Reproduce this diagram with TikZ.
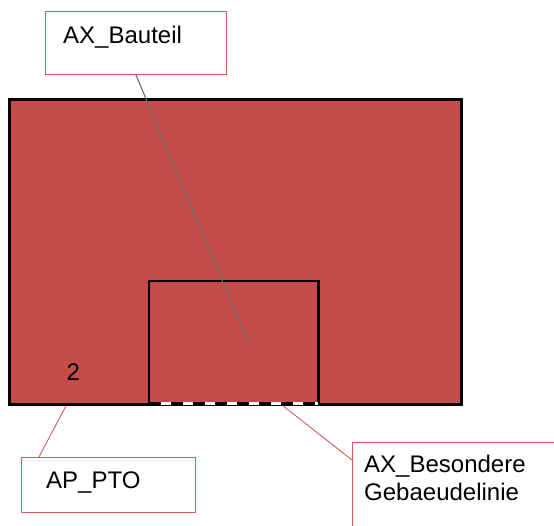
\documentclass[tikz,border=0pt]{standalone}
\usepackage{fontspec}
\setmainfont{Liberation Sans}
\usetikzlibrary{positioning}
\definecolor{bodyred}{HTML}{C64C4C}
\definecolor{leadred}{HTML}{CF5F5F}
\definecolor{leadgray}{HTML}{6E6E6E}

\begin{document}
\begin{tikzpicture}[x=1pt, y=-1pt,
    body/.style  = {rectangle, inner sep=0pt, anchor=north west},
    lbox/.style  = {rectangle, draw=leadred, line width=1pt, fill=white,
                    inner sep=0pt, anchor=north west},
    ltxt/.style  = {anchor=base west, inner sep=0pt, align=left,
                    font=\fontsize{24}{28}\selectfont},
    edge/.style  = {black, line width=2.8pt},
    lead/.style  = {leadred, line width=0.9pt}
  ]
  \useasboundingbox (0,0) rectangle (554,526);

  % ── Gebaeude ─────────────────────────────────────────────────────────────
  \node[body, draw=black, line width=2.8pt, fill=bodyred,
        minimum width=452pt, minimum height=305pt] (bau) at (8,98) {};
  \node[body, minimum width=169pt, minimum height=122pt] (inner) at (149,281) {};
  \draw[edge] (inner.south west) -- (inner.north west) -- (inner.north east) -- (inner.south east);
  \draw[white, line width=2.8pt] (inner.south west) -- (inner.south east);
  \draw[edge, dash pattern=on 12pt off 10pt] (inner.south west) -- (inner.south east);
  \node[ltxt] (nr) at (66.5,381) {2};
  \coordinate (bauteilpt) at (248,342);

  % ── Beschriftungen ───────────────────────────────────────────────────────
  \node[lbox, minimum width=181pt, minimum height=63pt] (lblbauteil) at (45,11) {};
  \node[ltxt] at (63,43.5) {AX\_Bauteil};
  \node[lbox, minimum width=174pt, minimum height=55pt] (lblpto) at (21,457) {};
  \node[ltxt] at (46,488) {AP\_PTO};
  \node[lbox, minimum width=240pt, minimum height=120pt] (lblbes) at (352,442) {};
  \node[ltxt] at (364,500) {AX\_Besondere\\Gebaeudelinie};

  % ── Hinweislinien ────────────────────────────────────────────────────────
  \draw[leadgray, line width=1.1pt] ([xshift=91pt]lblbauteil.south west) -- (bauteilpt);
  \draw[lead] ([xshift=58pt]bau.south west) -- ([xshift=18pt]lblpto.north west);
  \draw[lead] ([xshift=275pt]bau.south west) -- ([yshift=-18pt]lblbes.north west);
\end{tikzpicture}
\end{document}
